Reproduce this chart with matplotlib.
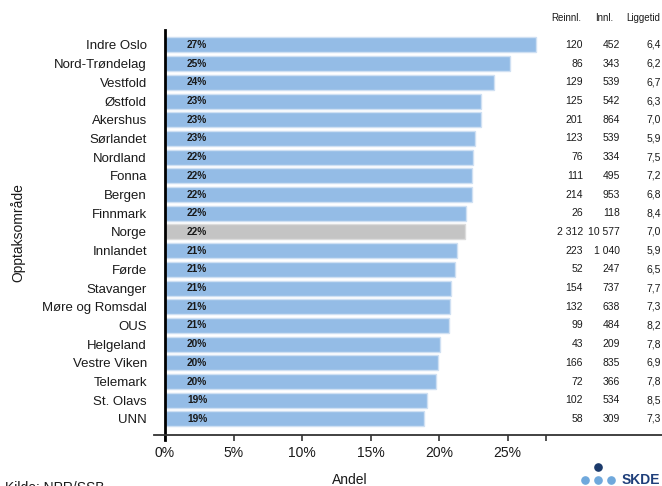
import matplotlib
matplotlib.use("Agg")
import matplotlib.pyplot as plt
from matplotlib.lines import Line2D
from matplotlib.transforms import blended_transform_factory

plt.rcParams['font.family'] = ['Liberation Sans', 'DejaVu Sans']

# data
omrader = ['Indre Oslo', 'Nord-Trøndelag', 'Vestfold', 'Østfold', 'Akershus',
           'Sørlandet', 'Nordland', 'Fonna', 'Bergen', 'Finnmark', 'Norge',
           'Innlandet', 'Førde', 'Stavanger', 'Møre og Romsdal', 'OUS',
           'Helgeland', 'Vestre Viken', 'Telemark', 'St. Olavs', 'UNN']
andel = [27.1, 25.2, 24.0, 23.1, 23.1, 22.6, 22.5, 22.4, 22.4, 22.0, 21.9,
         21.3, 21.2, 20.9, 20.8, 20.7, 20.1, 19.9, 19.8, 19.1, 18.9]
reinnl = [120, 86, 129, 125, 201, 123, 76, 111, 214, 26, 2312,
          223, 52, 154, 132, 99, 43, 166, 72, 102, 58]
innl = [452, 343, 539, 542, 864, 539, 334, 495, 953, 118, 10577,
        1040, 247, 737, 638, 484, 209, 835, 366, 534, 309]
liggetid = [6.4, 6.2, 6.7, 6.3, 7.0, 5.9, 7.5, 7.2, 6.8, 8.4, 7.0,
            5.9, 6.5, 7.7, 7.3, 8.2, 7.8, 6.9, 7.8, 8.5, 7.3]
xticks = [0, 5, 10, 15, 20, 25]

W, H = 662, 486
BLUE = '#94bce6'
GREY = '#c4c4c4'
TXT = '#1a1a1a'


def tusen(n):
    return f'{n:,}'.replace(',', ' ')


fig = plt.figure(figsize=(W / 100, H / 100), dpi=100)
ax = fig.add_axes([165 / W, (H - 435) / H, (W - 165) / W, 405 / H])

ypos = list(range(len(omrader)))
colors = [GREY if o == 'Norge' else BLUE for o in omrader]
edges = ['#dcdcdc' if o == 'Norge' else '#cfe0f3' for o in omrader]
ax.barh(ypos, andel, height=0.8, color=colors, edgecolor=edges, linewidth=1)

for y, v in zip(ypos, andel):
    ax.text(1.6, y, f'{round(v)}%', va='center', ha='left', fontsize=7.3,
            fontweight='bold', color=TXT)

ax.set_xlim(0, (W - 165) / 13.7)
ax.set_ylim(len(omrader) - 1 + 0.86, -0.8)
ax.set_yticks(ypos)
ax.set_yticklabels(omrader, fontsize=9.5, color=TXT)
ax.tick_params(axis='y', length=0, pad=13)
ax.set_xticks(xticks)
ax.set_xticklabels([f'{t}%' for t in xticks], fontsize=10, color=TXT)
ax.set_xticks([27.8], minor=True)
ax.tick_params(axis='x', which='both', length=4, width=1.2, color='#333333', pad=4)

for s in ax.spines.values():
    s.set_visible(False)
ax.plot([0, 0], [1, -5 / 405], transform=ax.transAxes, color='black',
        lw=2, clip_on=False)
ax.plot([-11 / 497, 1], [0, 0], transform=ax.transAxes, color='#333333',
        lw=1.3, clip_on=False)

ax.set_xlabel('Andel', fontsize=10, color=TXT)
ax.xaxis.set_label_coords((350 - 165) / 497, -0.093)
ax.set_ylabel('Opptaksområde', fontsize=10, color=TXT)
ax.yaxis.set_label_coords((25 - 165) / 497, 0.5)

# table at the right
tr = blended_transform_factory(fig.transFigure, ax.transData)
for y, r, i, l in zip(ypos, reinnl, innl, liggetid):
    ax.text(583 / W, y, tusen(r), transform=tr, ha='right', va='center',
            fontsize=7.5, color=TXT)
    ax.text(620 / W, y, tusen(i), transform=tr, ha='right', va='center',
            fontsize=7.5, color=TXT)
    ax.text(661 / W, y, f'{l:.1f}'.replace('.', ','), transform=tr,
            ha='right', va='center', fontsize=7.5, color=TXT)
for x, h in [(551, 'Reinnl.'), (595, 'Innl.'), (626, 'Liggetid')]:
    fig.text(x / W, (H - 18) / H, h, ha='left', va='center', fontsize=7,
             color=TXT)

fig.text(5 / W, (H - 481) / H, 'Kilde: NPR/SSB', ha='left', va='top',
         fontsize=10, color=TXT)

# SKDE logo
for x in (585, 598, 611):
    fig.add_artist(Line2D([x / W], [(H - 480) / H], marker='o', markersize=5.2,
                          color='#6fa8dc', linestyle='none',
                          transform=fig.transFigure))
fig.add_artist(Line2D([598 / W], [(H - 467) / H], marker='o', markersize=5.2,
                      color='#1b3a6b', linestyle='none',
                      transform=fig.transFigure))
fig.text(622 / W, (H - 480) / H, 'SKDE', ha='left', va='center', fontsize=10,
         fontweight='bold', color='#1f3f7a')

fig.savefig('out.png', dpi=100)
